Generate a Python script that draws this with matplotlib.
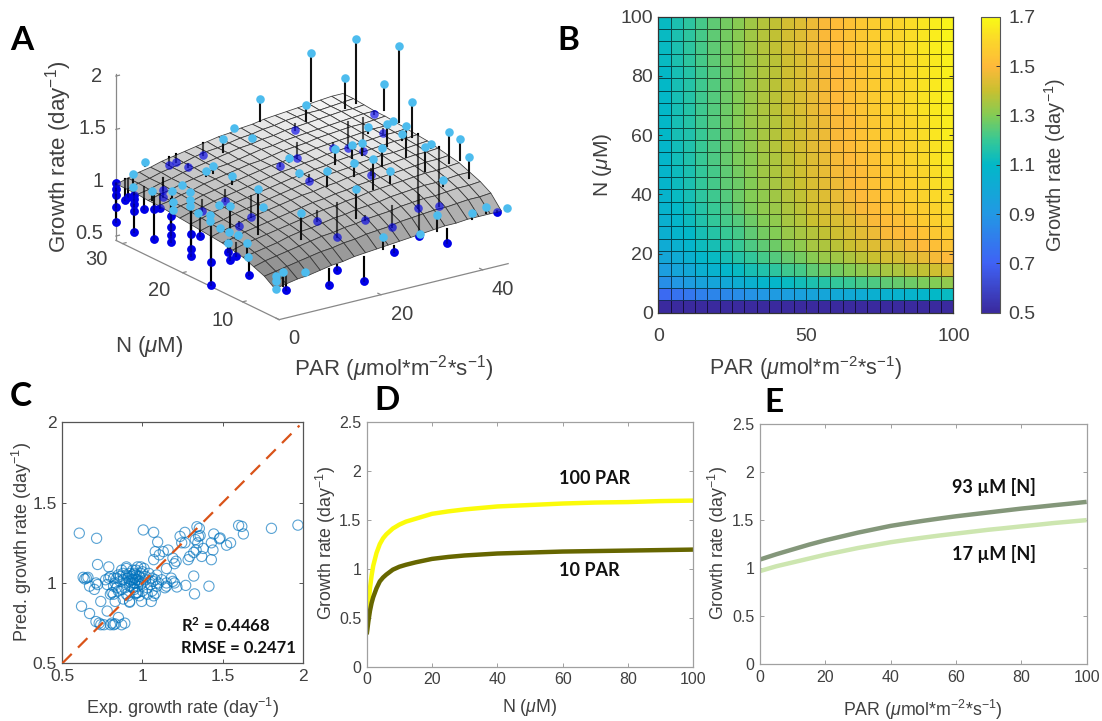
import numpy as np
import matplotlib
matplotlib.use("Agg")
import matplotlib.pyplot as plt
from matplotlib.colors import LinearSegmentedColormap

plt.rcParams["font.family"] = ["Liberation Sans", "DejaVu Sans"]
plt.rcParams["mathtext.fontset"] = "custom"
plt.rcParams["mathtext.rm"] = "Liberation Sans"
plt.rcParams["mathtext.it"] = "Liberation Sans:italic"
plt.rcParams["mathtext.bf"] = "Lato:bold"

W, H = 1102, 721
INK = "#404040"
DAY = r"(day$^{\mathrm{-1}}$)"
PAR_LABEL = r"PAR ($\mu$mol*m$^{\mathrm{-2}}$*s$^{\mathrm{-1}}$)"
N_LABEL = r"N ($\mu$M)"

# Panel A: fitted surface
surf_par = [0, 2.23, 4.45, 6.68, 8.9, 11.13, 13.35, 15.58, 17.8, 20.03, 22.25, 24.48, 26.7,
            28.93, 31.15, 33.38, 35.6, 37.83, 40.05, 42.28, 44.5]
surf_n = [4.6, 6.36, 8.12, 9.88, 11.64, 13.4, 15.16, 16.92, 18.68, 20.44, 22.2, 23.96, 25.72, 27.48, 29.24, 31]
surf_rate = [
    [.73, .75, .77, .78, .80, .82, .83, .85, .86, .87, .88, .89, .90, .91, .92, .93, .93, .94, .94, .94, .94],
    [.80, .82, .84, .86, .88, .90, .91, .93, .94, .96, .97, .98, 1.00, 1.01, 1.02, 1.03, 1.03, 1.04, 1.05, 1.05, 1.06],
    [.84, .87, .89, .91, .93, .95, .97, .98, 1.00, 1.01, 1.03, 1.04, 1.05, 1.07, 1.08, 1.09, 1.09, 1.10, 1.11, 1.11, 1.12],
    [.88, .90, .92, .94, .97, .99, 1.00, 1.02, 1.04, 1.05, 1.07, 1.08, 1.09, 1.11, 1.12, 1.13, 1.14, 1.14, 1.15, 1.16, 1.16],
    [.90, .93, .95, .97, .99, 1.01, 1.03, 1.05, 1.07, 1.08, 1.10, 1.11, 1.13, 1.14, 1.15, 1.16, 1.17, 1.18, 1.18, 1.19, 1.20],
    [.92, .94, .97, .99, 1.01, 1.03, 1.05, 1.07, 1.09, 1.10, 1.12, 1.13, 1.15, 1.16, 1.17, 1.18, 1.19, 1.20, 1.21, 1.21, 1.22],
    [.93, .96, .98, 1.01, 1.03, 1.05, 1.07, 1.09, 1.11, 1.12, 1.14, 1.15, 1.17, 1.18, 1.19, 1.20, 1.21, 1.22, 1.23, 1.23, 1.24],
    [.94, .97, .99, 1.02, 1.04, 1.06, 1.08, 1.10, 1.12, 1.14, 1.15, 1.17, 1.18, 1.19, 1.21, 1.22, 1.23, 1.23, 1.24, 1.25, 1.26],
    [.95, .98, 1.01, 1.03, 1.05, 1.07, 1.09, 1.11, 1.13, 1.15, 1.16, 1.18, 1.19, 1.21, 1.22, 1.23, 1.24, 1.25, 1.26, 1.26, 1.27],
    [.96, .99, 1.01, 1.04, 1.06, 1.08, 1.10, 1.12, 1.14, 1.16, 1.17, 1.19, 1.20, 1.22, 1.23, 1.24, 1.25, 1.26, 1.27, 1.27, 1.28],
    [.97, 1.00, 1.02, 1.05, 1.07, 1.09, 1.11, 1.13, 1.15, 1.17, 1.18, 1.20, 1.21, 1.23, 1.24, 1.25, 1.26, 1.27, 1.28, 1.28, 1.29],
    [.98, 1.00, 1.03, 1.05, 1.08, 1.10, 1.12, 1.14, 1.16, 1.17, 1.19, 1.21, 1.22, 1.23, 1.25, 1.26, 1.27, 1.28, 1.28, 1.29, 1.30],
    [.98, 1.01, 1.03, 1.06, 1.08, 1.10, 1.13, 1.14, 1.16, 1.18, 1.20, 1.21, 1.23, 1.24, 1.25, 1.26, 1.27, 1.28, 1.29, 1.30, 1.30],
    [.99, 1.01, 1.04, 1.06, 1.09, 1.11, 1.13, 1.15, 1.17, 1.19, 1.20, 1.22, 1.23, 1.25, 1.26, 1.27, 1.28, 1.29, 1.30, 1.30, 1.31],
    [.99, 1.02, 1.04, 1.07, 1.09, 1.11, 1.14, 1.16, 1.17, 1.19, 1.21, 1.22, 1.24, 1.25, 1.27, 1.28, 1.29, 1.29, 1.30, 1.31, 1.32],
    [.99, 1.02, 1.05, 1.07, 1.10, 1.12, 1.14, 1.16, 1.18, 1.20, 1.21, 1.23, 1.24, 1.26, 1.27, 1.28, 1.29, 1.30, 1.31, 1.32, 1.32],
]

# Panel A: measurements above the surface
above_par = [43.9, 45, 39, 41.6, 45.9, 43.8, 29, 34.4, 43, 44.9, 42.3, 44.2, 39.1, 39.4, 39, 42, 43.8, 38.5,
             32.6, 34.4, 34.4, 29.3, 28.9, 29.2, 24.4, 22.6, 24.1, 32.1, 37.7, 13.3, 6.4, 21.2, 24.3, 24.2,
             18.7, 6.75, 13.4, 12, 11.9, 1.1, .7, 7, .94, 2.25, 2.3, .99, 6.35, 4.8, 3.4, 3.1, 4.2, 3,
             7.25, 3.7, 2.7, 3, .5, 3.55, .8, .34, 10.6, 21.9, 32.5, 39.9, 43.3, 45.7, 6.5, 1.6, .3, .3, .3, 29.9]
above_n = [28.35, 22.1, 31.6, 28.25, 25.3, 18.9, 31.7, 28.6, 12, 11.85, 8.2, 22.4, 19.1, 22.5, 15.85, 19.1, 15.7, 12.2,
           19.4, 19.2, 16, 19.4, 12.8, 16.2, 22.9, 19.8, 16.3, 12.6, 8.5, 23, 12.9, 9.1, 29, 32,
           29.1, 32, 26.2, 26.2, 16.7, 29.1, 28.8, 26, 25.8, 23.7, 23.6, 22.4, 24.1, 22.8, 21.6, 20.1, 18.9, 17.9,
           20, 15.3, 16.1, 14.8, 12.9, 13.7, 10, 9.3, 9.25, 5.1, 5.1, 5.6, 6.1, 4.6, 5.1, 4.6, 4.6, 4.6, 4.6, 5.8]
above_exp = [1.915, 2.004, 1.749, 1.575, 1.549, 1.582, 1.43, 1.392, 1.5, 1.41, 1.376, 1.30, 1.42, 1.30, 1.497, 1.295, 1.275, 1.406,
             1.292, 1.296, 1.335, 1.292, 1.383, 1.256, 1.174, 1.138, 1.229, 1.241, 1.202, 1.128, 1.366, 1.291, 1.19, 1.207,
             1.246, 1.091, 1.138, 1.10, 1.024, 1.123, 1.012, 1.037, 1.052, 1.103, .994, .973, 1.027, 1.013, .999, .981, .979, .968,
             1.014, 1.172, .954, .949, .922, .946, 1.0, .895, 1.188, .947, 1.026, .946, .951, .95, .80, .873, .85, .796, .725, .863]
above_fit = [1.312, 1.288, 1.295, 1.294, 1.308, 1.254, 1.22, 1.242, 1.207, 1.22, 1.179, 1.278, 1.22, 1.243, 1.2, 1.242, 1.235, 1.175,
             1.173, 1.186, 1.166, 1.149, 1.106, 1.128, 1.133, 1.101, 1.091, 1.129, 1.146, 1.05, .938, 1.026, 1.168, 1.187,
             1.127, 1.056, 1.07, 1.06, 1.002, .995, .99, 1.021, .974, .972, .972, .954, 1.005, .985, .968, .956, .957, .9425,
             .986, .932, .929, .924, .894, .921, .878, .87, .948, .835, .876, .896, .898, .94, .764, .735, .728, .728, .725, .847]

# Panel A: measurements below the surface
below_par = [32.7, 44.3, 41.8, 33.2, 39.2, 41.8, 29.1, 23, 24.2, 32.5, 45, 45, 17.9, 21.9, 22.7, 27.8, 33.2, 44, 4.5, 10.8,
             12.7, 17.9, 23.9, 34.3, 11.3, 12.8, 18.1, 12.2, 6.5, 6.5, 6.7, 11.5, 13.2, 6.7,
             0, 0, 0, 0, 0, 1.7, 2.2, 1.2, 1.2, 1.2, 1.2, 1.2, 2.5, 2.7, 2.7, 2.8, 3.2, 3.2, 3.2, 3.2,
             4.3, 4.3, 4.3, 3.6, 3.4, 3.4, 1.9, 2.1, 2.2, 0]
below_n = [28.9, 25.6, 22.1, 23.1, 25.6, 25.3, 25.6, 23.3, 19.5, 16.2, 18.9, 15.4, 12.8, 12.9, 8.8, 8.7, 8.7, 4.9, 6.6, 4.7,
           5.1, 4.9, 5.1, 5, 31.9, 31.9, 31.9, 29.5, 28.8, 28.8, 22.5, 22.6, 19.7, 16.3,
           31, 31, 31, 31, 31, 31, 31, 29.1, 29.1, 29.1, 29.1, 29.1, 28.6, 27.1, 27.1, 26.2, 24.6, 24.6, 24.6, 24.6,
           22.2, 22.2, 22.2, 20.1, 18.2, 18.2, 14, 13.9, 13, 9]
below_exp = [1.175, 1.276, 1.228, 1.16, 1.02, .965, 1.044, 1.10, 1.054, 1.10, .567, .689, .936, .732, .998, .871, .723, .924, .615, .641,
             .748, .589, .784, .746, 1.014, 1.026, 1.024, 1.052, .918, .852, .894, .924, .84, .923,
             .997, .944, .891, .772, .638, .821, .845, .924, .884, .843, .774, .581, .791, .833, .548, .869, .825, .728, .653, .588,
             .713, .572, .507, .757, .569, .35, .795, .723, .779, .741]
below_fit = [1.231, 1.298, 1.258, 1.2, 1.26, 1.278, 1.184, 1.125, 1.11, 1.153, 1.263, 1.242, 1.023, 1.054, 1.035, 1.074, 1.114, .94, .74, .784,
             .795, .811, .836, .88, 1.089, 1.098, 1.14, 1.08, 1.034, 1.034, .997, 1.034, 1.03, .96,
             .994, .994, .994, .994, .994, 1.015, 1.01, .996, .996, .996, .996, .996, 1.003, .995, .995, .991, .984, .984, .984, .984,
             .978, .978, .978, .96, .947, .947, .91, .91, .907, .866]

# Panel B: heat map, one row per N step
heat_rate = [
    [.33, .34, .35, .35, .36, .37, .37, .38, .39, .39, .40, .41, .41, .42, .42, .43, .43, .44, .44, .45, .45, .46, .46, .47],
    [.73, .76, .78, .81, .83, .84, .86, .88, .90, .92, .94, .95, .97, .98, 1.00, 1.01, 1.02, 1.04, 1.05, 1.06, 1.07, 1.08, 1.10, 1.11],
    [.87, .90, .93, .96, .98, 1.00, 1.03, 1.05, 1.08, 1.09, 1.11, 1.13, 1.15, 1.17, 1.19, 1.20, 1.22, 1.23, 1.25, 1.26, 1.27, 1.29, 1.30, 1.32],
    [.94, .98, 1.00, 1.04, 1.06, 1.09, 1.11, 1.14, 1.16, 1.18, 1.21, 1.22, 1.25, 1.27, 1.28, 1.30, 1.32, 1.33, 1.35, 1.36, 1.38, 1.39, 1.41, 1.43],
    [.99, 1.02, 1.05, 1.09, 1.11, 1.14, 1.17, 1.19, 1.22, 1.24, 1.26, 1.28, 1.31, 1.33, 1.34, 1.36, 1.38, 1.40, 1.42, 1.42, 1.44, 1.46, 1.48, 1.50],
    [1.02, 1.05, 1.08, 1.12, 1.14, 1.17, 1.20, 1.23, 1.25, 1.27, 1.30, 1.32, 1.35, 1.36, 1.38, 1.40, 1.42, 1.44, 1.45, 1.46, 1.48, 1.50, 1.52, 1.54],
    [1.04, 1.08, 1.10, 1.14, 1.17, 1.20, 1.22, 1.25, 1.28, 1.30, 1.33, 1.35, 1.37, 1.39, 1.41, 1.43, 1.45, 1.47, 1.49, 1.50, 1.51, 1.53, 1.55, 1.57],
    [1.05, 1.09, 1.12, 1.16, 1.19, 1.22, 1.24, 1.27, 1.30, 1.32, 1.35, 1.37, 1.40, 1.42, 1.43, 1.45, 1.47, 1.49, 1.51, 1.52, 1.54, 1.56, 1.58, 1.60],
    [1.07, 1.10, 1.13, 1.17, 1.20, 1.23, 1.26, 1.29, 1.32, 1.33, 1.36, 1.38, 1.41, 1.43, 1.45, 1.47, 1.49, 1.51, 1.53, 1.54, 1.56, 1.57, 1.59, 1.61],
    [1.07, 1.11, 1.14, 1.18, 1.21, 1.24, 1.27, 1.30, 1.32, 1.34, 1.37, 1.39, 1.42, 1.44, 1.46, 1.48, 1.50, 1.52, 1.54, 1.55, 1.57, 1.59, 1.61, 1.62],
    [1.08, 1.12, 1.15, 1.19, 1.22, 1.25, 1.27, 1.30, 1.33, 1.35, 1.38, 1.40, 1.43, 1.45, 1.47, 1.49, 1.51, 1.53, 1.55, 1.56, 1.58, 1.60, 1.62, 1.63],
    [1.08, 1.12, 1.15, 1.19, 1.22, 1.25, 1.28, 1.31, 1.34, 1.36, 1.39, 1.41, 1.44, 1.46, 1.48, 1.49, 1.51, 1.53, 1.55, 1.56, 1.58, 1.60, 1.62, 1.64],
    [1.09, 1.13, 1.16, 1.20, 1.23, 1.26, 1.29, 1.31, 1.34, 1.36, 1.39, 1.41, 1.44, 1.46, 1.48, 1.50, 1.52, 1.54, 1.56, 1.57, 1.59, 1.61, 1.63, 1.65],
    [1.09, 1.13, 1.16, 1.20, 1.23, 1.26, 1.29, 1.32, 1.35, 1.37, 1.40, 1.42, 1.45, 1.47, 1.49, 1.51, 1.53, 1.54, 1.56, 1.57, 1.59, 1.61, 1.63, 1.65],
    [1.10, 1.14, 1.16, 1.20, 1.23, 1.26, 1.29, 1.32, 1.35, 1.37, 1.40, 1.42, 1.45, 1.47, 1.49, 1.51, 1.53, 1.55, 1.57, 1.58, 1.60, 1.62, 1.64, 1.66],
    [1.10, 1.14, 1.17, 1.21, 1.24, 1.27, 1.30, 1.33, 1.35, 1.37, 1.40, 1.42, 1.45, 1.47, 1.49, 1.51, 1.53, 1.55, 1.57, 1.58, 1.60, 1.62, 1.64, 1.66],
    [1.10, 1.14, 1.17, 1.21, 1.24, 1.27, 1.30, 1.33, 1.36, 1.38, 1.41, 1.43, 1.46, 1.48, 1.50, 1.52, 1.54, 1.56, 1.58, 1.59, 1.61, 1.63, 1.65, 1.66],
    [1.10, 1.14, 1.17, 1.21, 1.24, 1.27, 1.30, 1.33, 1.36, 1.38, 1.41, 1.43, 1.46, 1.48, 1.50, 1.52, 1.54, 1.56, 1.58, 1.59, 1.61, 1.63, 1.65, 1.67],
    [1.10, 1.14, 1.17, 1.21, 1.24, 1.27, 1.30, 1.33, 1.36, 1.38, 1.41, 1.43, 1.46, 1.48, 1.50, 1.52, 1.54, 1.56, 1.58, 1.59, 1.61, 1.63, 1.65, 1.67],
    [1.10, 1.14, 1.17, 1.21, 1.24, 1.27, 1.30, 1.33, 1.36, 1.38, 1.41, 1.43, 1.46, 1.48, 1.50, 1.52, 1.54, 1.56, 1.58, 1.59, 1.61, 1.63, 1.65, 1.67],
    [1.11, 1.15, 1.18, 1.22, 1.25, 1.28, 1.31, 1.33, 1.36, 1.38, 1.41, 1.43, 1.46, 1.48, 1.50, 1.52, 1.54, 1.56, 1.58, 1.59, 1.61, 1.63, 1.65, 1.67],
    [1.11, 1.15, 1.18, 1.22, 1.25, 1.28, 1.31, 1.34, 1.37, 1.39, 1.42, 1.44, 1.47, 1.49, 1.51, 1.53, 1.55, 1.57, 1.59, 1.60, 1.62, 1.64, 1.66, 1.67],
    [1.11, 1.15, 1.18, 1.22, 1.25, 1.28, 1.31, 1.34, 1.37, 1.39, 1.42, 1.44, 1.47, 1.49, 1.51, 1.53, 1.55, 1.57, 1.59, 1.60, 1.62, 1.64, 1.66, 1.68],
    [1.11, 1.15, 1.18, 1.22, 1.25, 1.28, 1.31, 1.34, 1.37, 1.39, 1.42, 1.44, 1.47, 1.49, 1.51, 1.53, 1.55, 1.57, 1.59, 1.60, 1.62, 1.64, 1.66, 1.68],
]
heat_ticks = [0.5, 0.7, 0.9, 1.1, 1.3, 1.5, 1.7]

# Panel C: predicted against experimental rate
exp_rate = [.606, .714, 1.005, 1.07, 1.095, 1.805, 1.97, 1.6, 1.62, 1.63, 1.55, 1.525, 1.48, 1.485, 1.445, 1.43, 1.44, 1.43,
            1.38, 1.37, 1.415, 1.32, 1.325, 1.27, 1.355, 1.34, 1.36, 1.35, 1.33, 1.345, 1.265, 1.235, 1.245, 1.265, 1.285,
            1.295, 1.32, 1.335, 1.19, 1.21, 1.2, 1.16, 1.13, 1.08, 1.105, 1.07, 1.15, 1.18, 1.19, 1.2, 1.215, 1.15, 1.14,
            1.09, 1.1, 1.065, 1.08, 1.055, .995, .92, .96, .93, .94, .95, .96, .97, .95, .98, .99, .92, .9, .87, .85, .84,
            .82, .8, .83, .86, .88, .9, .92, .94, .97, 1.0, 1.02, 1.03, 1.05, 1.06, 1.0, .98, .96, .97, .99, .93, .96, .94,
            .95, .91, .9, .88, .86, .63, .65, .66, .64, .67, .7, .72, .71, .72, .79, .79, .77, .62, .67, .71, .73, .74, .76,
            .8, .82, .83, .81, .87, .89, .85, .78, .74, .83, .82, .8, .84, .87, .9, .92, .78, .81,
            .88, .91, .93, .95, .97, 1.0, 1.02, 1.04, 1.06, 1.08, .98, .95, .92, .89, .85, .82, .9, .94, 1.03, 1.07, 1.09, 1.01, .99, .96, 1.12, 1.15]
pred_rate = [1.31, 1.278, 1.33, 1.315, 1.255, 1.34, 1.36, 1.358, 1.352, 1.305, 1.25, 1.235, 1.275, 1.28, 1.305, 1.25, 1.205, 1.145,
             1.215, 1.165, .98, 1.043, .932, .985, 1.34, 1.35, 1.295, 1.29, 1.27, 1.25, 1.315, 1.29, 1.25, 1.25, 1.145,
             1.165, 1.19, 1.205, 1.155, 1.135, 1.12, 1.205, 1.195, 1.195, 1.175, 1.145, 1.09, 1.03, 1.01, 1.0, .975, .98, .97,
             1.05, 1.0, 1.01, .935, .885, .885, .885, .935, 1.04, 1.02, 1.03, 1.05, 1.02, 1.0, 1.04, 1.06, 1.06, 1.09, 1.08, 1.05, 1.03,
             1.03, 1.04, 1.0, 1.01, 1.02, 1.0, .98, .97, .98, 1.0, 1.02, .97, .99, 1.03, .95, .92, 1.08, 1.1, 1.1, 1.02, 1.02, 1.05,
             1.06, 1.03, 1.05, 1.06, 1.04, 1.035, 1.03, 1.035, 1.025, .98, .96, .99, 1.0, 1.115, 1.1, 1.03, 1.02, .855, .81, .76, .75, .74, .74,
             .74, .74, .745, .75, .74, .75, .785, .825, .885, .885, .93, .93, .97, .96, .93, .88, .99, .94,
             .9, .92, 1.0, .96, .94, 1.07, 1.04, 1.06, .95, 1.02, 1.01, 1.0, 1.01, .97, .95, .98, 1.1, 1.08, .93, .92, .98, 1.09, .99, .94, 1.02, 1.0]
unity_line = [0.5, 1.98]

# Panel D: rate against N at two light levels
d_n = [0, .2, .5, 1, 1.5, 2, 3, 4, 5, 6, 8, 10, 12, 15, 20, 25, 30, 40, 50, 60, 70, 80, 90, 100]
d_par100 = [.45, .50, .62, .80, .93, 1.03, 1.16, 1.25, 1.31, 1.35, 1.41, 1.45, 1.48, 1.51, 1.56, 1.585, 1.605, 1.635, 1.65, 1.665, 1.675, 1.68, 1.69, 1.695]
d_par10 = [.33, .38, .46, .57, .65, .71, .80, .87, .91, .94, .99, 1.02, 1.04, 1.065, 1.10, 1.12, 1.135, 1.155, 1.165, 1.175, 1.18, 1.185, 1.19, 1.195]

# Panel E: rate against light at two N levels
e_par = [0, 5, 10, 15, 20, 25, 30, 35, 40, 45, 50, 55, 60, 65, 70, 75, 80, 85, 90, 95, 100]
e_n93 = [1.09, 1.145, 1.195, 1.245, 1.29, 1.33, 1.37, 1.405, 1.44, 1.467, 1.493, 1.517, 1.54, 1.56, 1.58, 1.60, 1.62, 1.637, 1.655, 1.672, 1.69]
e_n17 = [.97, 1.02, 1.06, 1.10, 1.14, 1.175, 1.21, 1.24, 1.27, 1.295, 1.318, 1.34, 1.36, 1.38, 1.40, 1.417, 1.435, 1.452, 1.47, 1.485, 1.50]

fig = plt.figure(figsize=(W / 100, H / 100), dpi=100)


def px_axes(left, top, right, bottom, **kw):
    return fig.add_axes([left / W, 1 - bottom / H, (right - left) / W, (bottom - top) / H], **kw)


def px_text(x, y, s, size, **kw):
    kw.setdefault("color", INK)
    kw.setdefault("ha", "center")
    kw.setdefault("va", "center")
    return fig.text(x / W, 1 - y / H, s, fontsize=size, **kw)


def note(x, y, s, size=13):
    px_text(x, y, s, size, color="#111111", ha="left", family="Lato", fontweight="bold")


def style_box(ax, edge, tick_size, pad=4):
    for spine in ax.spines.values():
        spine.set_color(edge)
        spine.set_linewidth(0.9)
    ax.tick_params(direction="in", length=3, width=0.7, color=edge, labelcolor=INK,
                   labelsize=tick_size, top=True, right=True, pad=pad)


# Panel letters
for letter, x, y in [("A", 22, 40), ("B", 568, 41), ("C", 21, 397), ("D", 387, 401), ("E", 774, 403)]:
    px_text(x, y, letter, 24, color="black", family="Lato", fontweight="bold")

# A: 3D surface with stems
size3d = 422.8
left3d = 312 - 0.5135 * size3d
bottom3d = 169 + 0.5135 * size3d
ax3 = fig.add_axes([left3d / W, 1 - bottom3d / H, size3d / W, size3d / H],
                   projection="3d", computed_zorder=False, proj_type="ortho")
ax3.patch.set_alpha(0)
ax3.set_xlim(0, 45, view_margin=0)
ax3.set_ylim(3.9, 31.1, view_margin=0)
ax3.set_zlim(0.46, 2.016, view_margin=0)
ax3.set_box_aspect((280.8, 282.1, 176.8))
ax3.view_init(elev=20.16, azim=-125.36)
ax3.set_axis_off()

axis_kw = dict(color="#888888", lw=0.9, zorder=0)
ax3.plot([0, 45], [3.9, 3.9], [0.46, 0.46], **axis_kw)
ax3.plot([0, 0], [3.9, 31.1], [0.46, 0.46], **axis_kw)
ax3.plot([0, 0], [31.1, 31.1], [0.46, 2.016], **axis_kw)
for t in [10, 20, 30]:
    ax3.plot([0, 0.7], [t, t], [0.46, 0.46], **axis_kw)
for t in [0, 20, 40]:
    ax3.plot([t, t], [3.9, 4.4], [0.46, 0.46], **axis_kw)
for t in [0.5, 1, 1.5, 2]:
    ax3.plot([0, 0.7], [31.1, 31.1], [t, t], **axis_kw)

# solid pass under the surface, keeps marks off its edge at full colour
for i in range(len(below_par)):
    ax3.plot([below_par[i]] * 2, [below_n[i]] * 2, [below_exp[i], below_fit[i]], color="black", lw=1.5, zorder=1)
ax3.scatter(below_par, below_n, below_exp, s=38, color="#0000e8", depthshade=False, zorder=2, linewidths=0)

surf_cmap = LinearSegmentedColormap.from_list("surf", ["#6c6c6c", "#f6f6f6"])
X, Y = np.meshgrid(surf_par, surf_n)
ax3.plot_surface(X, Y, np.array(surf_rate), cmap=surf_cmap, vmin=0.73, vmax=1.32, rcount=16, ccount=21,
                 edgecolor="#383838", linewidth=0.55, alpha=0.9, shade=False, zorder=3)

# second pass with alpha, so they show through the surface
for i in range(len(below_par)):
    ax3.plot([below_par[i]] * 2, [below_n[i]] * 2, [below_exp[i], below_fit[i]], color="black", lw=1.5,
             alpha=0.6, zorder=3.5)
ax3.scatter(below_par, below_n, below_exp, s=38, color="#0000e8", alpha=0.6, depthshade=False, zorder=3.6, linewidths=0)

for i in range(len(above_par)):
    ax3.plot([above_par[i]] * 2, [above_n[i]] * 2, [above_exp[i], above_fit[i]], color="#111111", lw=1.5, zorder=4)
ax3.scatter(above_par, above_n, above_exp, s=38, color="#4dbcee", depthshade=False, zorder=5, linewidths=0)

for x, y, s in [(96.7, 259.3, "30"), (159, 290.7, "20"), (222.7, 320.7, "10"), (294, 338.7, "0"),
                (401.7, 314.7, "20"), (502.7, 289.3, "40"), (97, 76.7, "2"), (92, 128, "1.5"),
                (97.6, 181.7, "1"), (89, 233, "0.5")]:
    px_text(x, y, s, 14.5)
px_text(58.6, 156.7, "Growth rate " + DAY, 16, rotation=90)
px_text(149.3, 346.7, N_LABEL, 16)
px_text(393.3, 368.3, PAR_LABEL, 16)

# B: heat map
heat_cmap = LinearSegmentedColormap.from_list("heat", [
    (0.0, "#3a2a9e"), (0.1667, "#3f62f5"), (0.3333, "#2298e4"), (0.5, "#02b8c8"), (0.5833, "#36c896"),
    (0.6667, "#83cc55"), (0.75, "#c8c030"), (0.8333, "#feb93a"), (0.9167, "#fbd52b"), (1.0, "#f9fb15")])
ax_b = px_axes(658.3, 16.7, 953.4, 312.7)
edges = np.linspace(0, 100, 25)
mesh = ax_b.pcolormesh(edges, edges, np.array(heat_rate), cmap=heat_cmap, vmin=0.5, vmax=1.7,
                       edgecolors=(0, 0, 0, 0.6), linewidth=0.6)
ax_b.set_xticks([0, 50, 100])
ax_b.set_yticks([0, 20, 40, 60, 80, 100])
style_box(ax_b, "#333333", 14)
ax_b.tick_params(axis="x", pad=11)
px_text(805.5, 368, PAR_LABEL, 15.5)
px_text(603, 165, N_LABEL, 15, rotation=90)

cax = px_axes(980.7, 16.7, 1000.3, 312.7)
cbar = fig.colorbar(mesh, cax=cax, ticks=heat_ticks)
cbar.ax.set_yticklabels([f"{t:g}" for t in heat_ticks])
cbar.ax.tick_params(direction="in", length=3, width=0.7, color="#333333", labelcolor=INK, labelsize=14, pad=6)
cbar.outline.set_edgecolor("#555555")
cbar.outline.set_linewidth(0.8)
px_text(1055.5, 165, "Growth rate " + DAY, 14.5, rotation=90)

# C: scatter
ax_c = px_axes(62.3, 422.3, 302.7, 663.3)
ax_c.scatter(exp_rate, pred_rate, s=54, facecolors="none", edgecolors="#0072BD", linewidths=0.8, alpha=0.65, zorder=2)
ax_c.plot(unity_line, unity_line, color="#D95319", lw=1.6, dashes=(6, 4), zorder=3)
ax_c.set_xlim(0.5, 2)
ax_c.set_ylim(0.5, 2)
ax_c.set_xticks([0.5, 1, 1.5, 2], ["0.5", "1", "1.5", "2"])
ax_c.set_yticks([0.5, 1, 1.5, 2], ["0.5", "1", "1.5", "2"])
style_box(ax_c, "#555555", 12.5)
px_text(183, 708, "Exp. growth rate " + DAY, 13)
px_text(21.7, 542, "Pred. growth rate " + DAY, 13, rotation=90)
note(181, 625.7, r"R$^{\mathbf{2}}$ = 0.4468", size=12)
note(181, 647.7, "RMSE = 0.2471", size=12)

# D and E: response curves
ax_d = px_axes(366.7, 421.7, 693.3, 666.7)
ax_d.plot(d_n, d_par100, color="#fbfb0a", lw=3.2, solid_capstyle="butt")
ax_d.plot(d_n, d_par10, color="#666600", lw=3.2, solid_capstyle="butt")
ax_e = px_axes(760, 424, 1086.7, 664.3)
ax_e.plot(e_par, e_n93, color="#84977a", lw=3.2, solid_capstyle="butt")
ax_e.plot(e_par, e_n17, color="#cde6b0", lw=3.2, solid_capstyle="butt")
for ax in (ax_d, ax_e):
    ax.set_xlim(0, 100)
    ax.set_ylim(0, 2.5)
    ax.set_xticks([0, 20, 40, 60, 80, 100])
    ax.set_yticks([0, 0.5, 1, 1.5, 2, 2.5], ["0", "0.5", "1", "1.5", "2", "2.5"])
    style_box(ax, "#a0a0a0", 11.5)
px_text(530, 707.7, N_LABEL, 12.8)
px_text(326, 543, "Growth rate " + DAY, 12.8, rotation=90)
px_text(923, 710, PAR_LABEL, 12.8)
px_text(718, 543, "Growth rate " + DAY, 12.8, rotation=90)
note(559, 479, "100 PAR")
note(559, 570, "10 PAR")
note(952, 487, "93 µM [N]")
note(952, 554, "17 µM [N]")

fig.savefig("out.png", dpi=100)
